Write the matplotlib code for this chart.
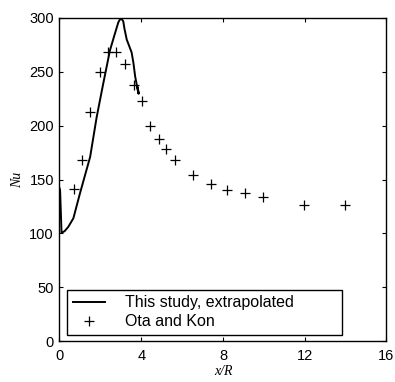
import matplotlib
matplotlib.use("Agg")
import matplotlib.pyplot as plt

# Data
study_x = [0.0, 0.03, 0.1, 0.25, 0.43, 0.68, 1.0, 1.25, 1.5, 1.82, 2.14, 2.47, 2.72, 2.88,
           2.97, 3.04, 3.12, 3.18, 3.29, 3.41, 3.53, 3.62, 3.7, 3.78, 3.86, 3.82, 3.88]
study_y = [142, 140, 100.5, 102, 106, 114, 137, 154, 171, 208, 239, 270, 286, 296,
           299, 299, 297, 290, 280, 274, 268, 258, 246, 238, 230, 236, 230]

ota_x = [0.70, 1.08, 1.50, 1.96, 2.37, 2.78, 3.20, 3.64, 4.05, 4.44, 4.85, 5.23, 5.67,
         6.54, 7.40, 8.22, 9.08, 9.97, 11.96, 13.99]
ota_y = [141, 168, 213, 250, 268, 268, 257, 238, 223, 200, 188, 178, 168,
         154, 146, 140, 137, 134, 126, 126]

xticks = [0, 4, 8, 12, 16]
yticks = [0, 50, 100, 150, 200, 250, 300]

plt.rcParams['font.family'] = ['Liberation Sans', 'DejaVu Sans']

fig = plt.figure(figsize=(3.95, 3.82), dpi=100)
ax = fig.add_axes([0.1506, 0.1073, 0.8278, 0.8456])

ax.plot(study_x, study_y, color='black', lw=1.4, label='This study, extrapolated')
ax.plot(ota_x, ota_y, linestyle='none', marker='+', color='black', ms=7.5, mew=0.9,
        label='Ota and Kon')

ax.set_xlim(0, 16)
ax.set_ylim(0, 300)
ax.set_xticks(xticks)
ax.set_yticks(yticks)
ax.tick_params(direction='in', top=True, right=True, labelsize=10.5, length=3, width=0.8)
ax.tick_params(axis='x', pad=5.5)
ax.tick_params(axis='y', pad=4)
for s in ax.spines.values():
    s.set_linewidth(1.0)

ax.set_xlabel('x/R', fontfamily='Liberation Serif', fontstyle='italic', fontsize=10, labelpad=2)
ax.set_ylabel('Nu', fontfamily='Liberation Serif', fontstyle='italic', fontsize=10, labelpad=4)

leg = ax.legend(loc='lower left', bbox_to_anchor=(0.023, 0.0186, 0.841, 0.136), mode='expand',
                fontsize=11.5, frameon=True, fancybox=False, edgecolor='black', framealpha=1,
                handlelength=2.0, borderpad=0.35, labelspacing=0.25, handletextpad=1.3,
                borderaxespad=0)
leg.get_frame().set_linewidth(1.0)

fig.savefig('out.png', dpi=100)
